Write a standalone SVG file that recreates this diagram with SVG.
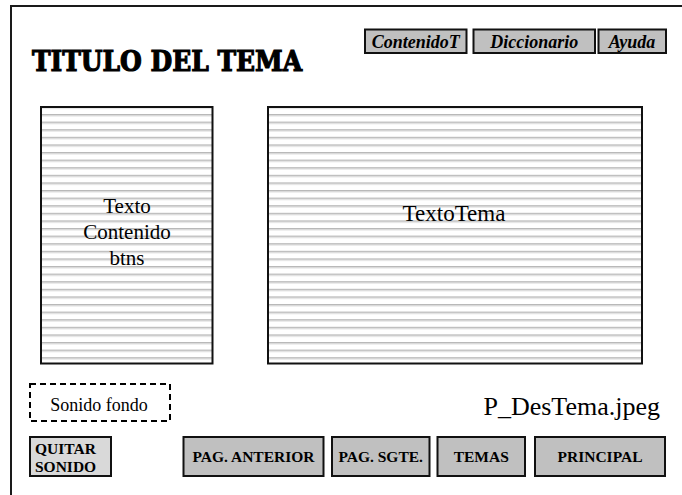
<svg xmlns="http://www.w3.org/2000/svg" width="682" height="495" viewBox="0 0 682 495">
<defs>
<pattern id="stripes" patternUnits="userSpaceOnUse" x="0" y="114" width="10" height="7.6">
<rect x="0" y="0" width="10" height="7.6" fill="#ffffff"/>
<rect x="0" y="0" width="10" height="1.5" fill="#b8b8b8"/>
<rect x="0" y="1.5" width="10" height="0.9" fill="#dedede"/>
</pattern>
</defs>
<style>
.frame{fill:none;stroke:#1a1a1a;stroke-width:2}
.panel{fill:url(#stripes);stroke:#111;stroke-width:2}
.btn{fill:#c0c0c0;stroke:#111;stroke-width:2}
.btnl{fill:#d9d9d9;stroke:#111;stroke-width:2}
.top{font-family:"Liberation Serif",serif;font-weight:bold;font-style:italic;font-size:18px;fill:#000}
.bot{font-family:"Liberation Serif",serif;font-weight:bold;font-size:15.5px;fill:#000}
.body{font-family:"Liberation Serif",serif;font-size:21px;fill:#000}
.title{font-family:"DejaVu Serif",serif;font-weight:900;font-size:28px;fill:#000;stroke:#000;stroke-width:1.2}
</style>
<rect width="682" height="495" fill="#ffffff"/>
<path class="frame" d="M11 495 V6 H682"/>
<g id="title"><text class="title" x="32" y="71" textLength="270" lengthAdjust="spacingAndGlyphs">TITULO DEL TEMA</text></g>
<g id="btn-contenidot"><rect class="btn" x="365" y="29.5" width="101.5" height="23.5"/><text class="top" x="415.7" y="47.5" text-anchor="middle">ContenidoT</text></g>
<g id="btn-diccionario"><rect class="btn" x="473.5" y="29.5" width="121.5" height="23.5"/><text class="top" x="534.2" y="47.5" text-anchor="middle">Diccionario</text></g>
<g id="btn-ayuda"><rect class="btn" x="598.5" y="29.5" width="67.5" height="23.5"/><text class="top" x="632" y="47.5" text-anchor="middle">Ayuda</text></g>
<g id="panel-contenido"><rect class="panel" x="41" y="107" width="171.5" height="256.5"/>
<text class="body" x="127" y="213" text-anchor="middle">Texto</text>
<text class="body" x="127" y="239" text-anchor="middle">Contenido</text>
<text class="body" x="127" y="265" text-anchor="middle">btns</text></g>
<g id="panel-textotema"><rect class="panel" x="268" y="107" width="374" height="256.5"/>
<text class="body" x="454" y="221" text-anchor="middle" style="font-size:23px">TextoTema</text></g>
<g id="sonido-fondo"><rect x="30" y="384" width="140" height="37" fill="none" stroke="#000" stroke-width="2" stroke-dasharray="6,4"/>
<text x="99" y="411" text-anchor="middle" style="font-family:'Liberation Serif',serif;font-size:18px">Sonido fondo</text></g>
<g id="filename"><text x="660" y="415" text-anchor="end" style="font-family:'Liberation Serif',serif;font-size:26px">P_DesTema.jpeg</text></g>
<g id="btn-quitar"><rect class="btnl" x="30" y="437" width="81" height="39"/><text class="bot" x="35" y="454">QUITAR</text><text class="bot" x="35" y="472">SONIDO</text></g>
<g id="btn-anterior"><rect class="btn" x="183.5" y="437" width="140" height="39"/><text class="bot" x="253.5" y="462" text-anchor="middle">PAG. ANTERIOR</text></g>
<g id="btn-sgte"><rect class="btn" x="332" y="437" width="97.5" height="39"/><text class="bot" x="380.7" y="462" text-anchor="middle">PAG. SGTE.</text></g>
<g id="btn-temas"><rect class="btn" x="437.5" y="437" width="87.5" height="39"/><text class="bot" x="481.2" y="462" text-anchor="middle">TEMAS</text></g>
<g id="btn-principal"><rect class="btn" x="535" y="437" width="130" height="39"/><text class="bot" x="600" y="462" text-anchor="middle">PRINCIPAL</text></g>
<g id="connectors"/>
</svg>
